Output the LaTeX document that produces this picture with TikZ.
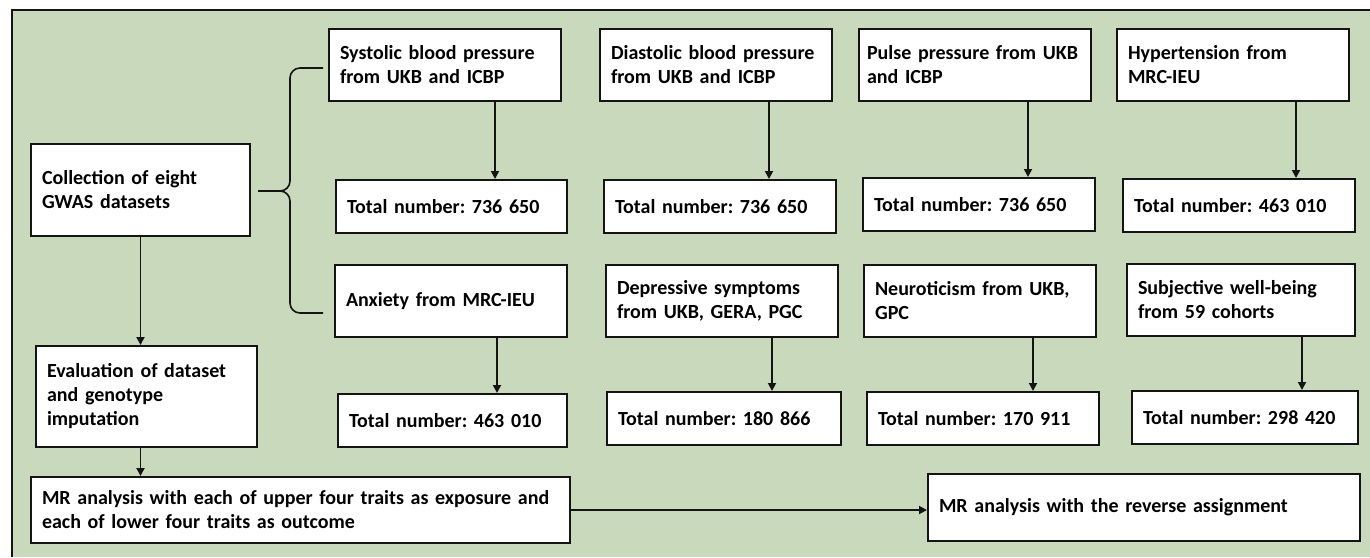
\documentclass[tikz,border=0pt]{standalone}
\usepackage{fontspec}
\setmainfont{Carlito}
\usetikzlibrary{arrows.meta}

\definecolor{panelgreen}{HTML}{C9D9BB}
\definecolor{linegray}{HTML}{141414}

\begin{document}
\frenchspacing
\begin{tikzpicture}[x = 0.5pt, y = -0.5pt,
        font = \bfseries\fontsize{10}{12}\selectfont,
        box/.style = {draw = linegray, fill = white, line width = 1pt, anchor = north west,
            inner xsep = 5.5pt, inner ysep = 2pt, align = left},
        trait/.style = {box, text width = 105pt, minimum height = 36pt},
        total/.style = {box, text width = 105pt, minimum height = 26.5pt},
        arr/.style = {draw = linegray, line width = 0.9pt, -{Triangle[length = 4pt, width = 4pt]}}]
        \useasboundingbox (0,0) rectangle (1370,557);
        
        % green panel
        \fill [panelgreen] (12,10) rectangle (1370,557);
        \draw [linegray, line width = 1.2pt] (12,557) -- (12,10) -- (1370,10);
        
        % upper four traits
        \node [trait] (sys) at (328,28) {Systolic blood pressure\\from UKB and ICBP};
        \node [trait] (dia) at (599,28) {Diastolic blood pressure\\from UKB and ICBP};
        \node [trait, inner xsep = 4pt, text width = 108pt] (pul) at (858,28) {Pulse pressure from UKB\\and ICBP};
        \node [trait] (hyp) at (1116,28) {Hypertension from\\MRC-IEU};
        
        \node [total, text width = 104.5pt] (systot) at (335,179) {Total number: 736 650};
        \node [total] (diatot) at (603,179) {Total number: 736 650};
        \node [total] (pultot) at (862,177) {Total number: 736 650};
        \node [total] (hyptot) at (1122,178) {Total number: 463 010};
        
        % lower four traits
        \node [trait] (anx) at (334,264) {Anxiety from MRC-IEU};
        \node [trait] (dep) at (605,264) {Depressive symptoms\\from UKB, GERA, PGC};
        \node [trait] (neu) at (863,264) {Neuroticism from UKB,\\GPC};
        \node [trait, text width = 103pt] (swb) at (1126,263) {Subjective well-being\\from 59 cohorts};
        
        \node [total, text width = 103.5pt] (anxtot) at (337,393) {Total number: 463 010};
        \node [total, text width = 106pt] (deptot) at (606,391) {Total number: 180 866};
        \node [total] (neutot) at (866,391) {Total number: 170 911};
        \node [total, text width = 102pt] (swbtot) at (1131,390) {Total number: 298 420};
        
        % workflow
        \node [box, text width = 98.5pt, minimum height = 46pt] (coll) at (30,143) {Collection of eight\\GWAS datasets};
        \node [box, text width = 99.5pt, minimum height = 50.5pt] (eval) at (35,345) {Evaluation of dataset\\and genotype\\imputation};
        \node [box, text width = 258.5pt, minimum height = 33pt] (mr) at (30,476) {MR analysis with each of upper four traits as exposure and\\each of lower four traits as outcome};
        \node [box, text width = 205pt, minimum height = 33.5pt] (rev) at (927,473) {MR analysis with the reverse assignment};
        
        % brace
        \draw [linegray, line width = 0.8pt, rounded corners = 5pt] (323,68) -- (290,68) -- (290,191) -- (258,191);
        \draw [linegray, line width = 0.8pt, rounded corners = 5pt] (258,191) -- (290,191) -- (290,313) -- (323,313);
        
        % arrows
        \draw [arr] (495,0 |- sys.south) -- (495,0 |- systot.north);
        \draw [arr] (769,0 |- dia.south) -- (769,0 |- diatot.north);
        \draw [arr] (1028,0 |- pul.south) -- (1028,0 |- pultot.north);
        \draw [arr] (1296,0 |- hyp.south) -- (1296,0 |- hyptot.north);
        
        \draw [arr] (497,0 |- anx.south) -- (497,0 |- anxtot.north);
        \draw [arr] (772,0 |- dep.south) -- (772,0 |- deptot.north);
        \draw [arr] (1033,0 |- neu.south) -- (1033,0 |- neutot.north);
        \draw [arr] (1302,0 |- swb.south) -- (1302,0 |- swbtot.north);
        
        \draw [arr] (coll.south) -- (coll.south |- eval.north);
        \draw [arr] (coll.south |- eval.south) -- (coll.south |- mr.north);
        \draw [arr] (mr.east) -- (mr.east -| rev.west);
    \end{tikzpicture}
\end{document}
